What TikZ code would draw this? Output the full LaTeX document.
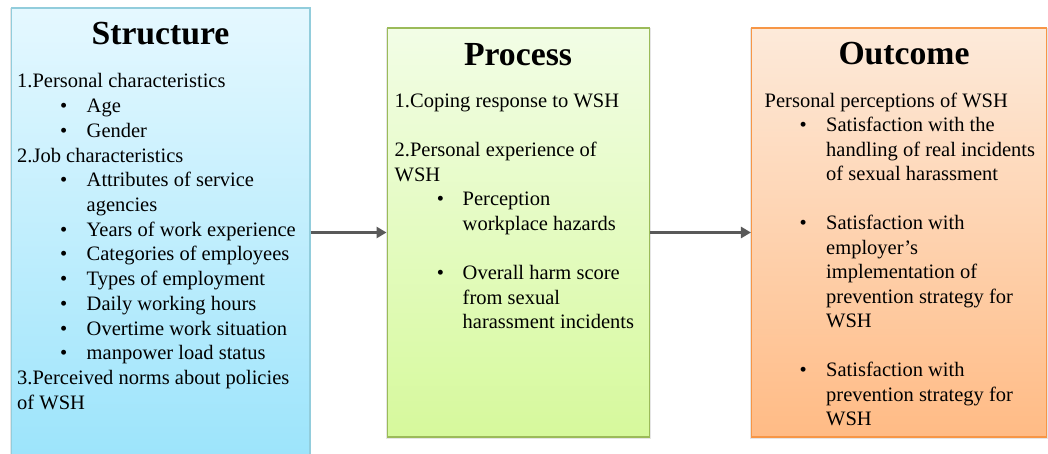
\documentclass[tikz,border=0pt]{standalone}
\usepackage{fontspec}
\setmainfont{Liberation Serif}
\usetikzlibrary{arrows.meta}
\definecolor{sBorder}{HTML}{92CDDC}
\definecolor{sTop}{HTML}{E5F8FF}
\definecolor{sBot}{HTML}{9CE4FB}
\definecolor{pBorder}{HTML}{9BBB59}
\definecolor{pTop}{HTML}{F2FDE6}
\definecolor{pBot}{HTML}{D6F99C}
\definecolor{oBorder}{HTML}{F79646}
\definecolor{oTop}{HTML}{FDEADA}
\definecolor{oBot}{HTML}{FFBB85}
\definecolor{arrowGray}{HTML}{595959}
\tikzset{
  panel/.style={rectangle, inner sep=0pt, line width=1.5pt,
    preaction={draw=black!10, line width=3pt, transform canvas={yshift=-1.2pt}}},
  title/.style={anchor=base, inner sep=0pt, font=\fontsize{33.7}{40}\selectfont\bfseries},
  body/.style={anchor=base west, inner sep=0pt, font=\fontsize{20.5}{24.6}\selectfont},
  bul/.style={anchor=base, inner sep=0pt, font=\fontsize{20.5}{24.6}\selectfont},
  link/.style={draw=arrowGray, line width=3pt, -{Triangle[length=10pt,width=11pt]}}
}
\begin{document}
\begin{tikzpicture}[x=1pt,y=-1pt]
\useasboundingbox (0,0) rectangle (1048,454);
% boxes
\node[panel, draw=sBorder, top color=sTop, bottom color=sBot,
  minimum width=298.5pt, minimum height=452pt] (sbox) at (160.5,234) {};
\node[panel, draw=pBorder, top color=pTop, bottom color=pBot,
  minimum width=262pt, minimum height=408.5pt] (pbox) at (518.3,232.5) {};
\node[panel, draw=oBorder, top color=oTop, bottom color=oBot,
  minimum width=295pt, minimum height=408.5pt] (obox) at (899.2,232.5) {};
% titles
\node[title] (st) at (160.5,45) {Structure};
\node[title] (pt) at (518,66) {Process};
\node[title] (ot) at (904,65) {Outcome};
% Structure text: kind 0 = plain, 1 = bullet, 2 = continuation
\foreach \i/\k/\t in {0/0/1.Personal characteristics, 1/1/Age, 2/1/Gender,
  3/0/2.Job characteristics, 4/1/Attributes of service, 5/2/agencies,
  6/1/Years of work experience, 7/1/Categories of employees,
  8/1/Types of employment, 9/1/Daily working hours,
  10/1/Overtime work situation, 11/1/manpower load status,
  12/0/3.Perceived norms about policies, 13/0/of WSH}{
  \pgfmathsetmacro{\yy}{88+24.7*\i}
  \ifnum\k=0
    \node[body] (s\i) at (17,\yy) {\t};
  \else
    \node[body] (s\i) at (86.5,\yy) {\t};
  \fi
  \ifnum\k=1
    \node[bul] (sb\i) at (63.8,\yy) {\textbullet};
  \fi
}
% Process text
\foreach \i/\k/\t in {0/0/1.Coping response to WSH,
  2/0/2.Personal experience of, 3/0/WSH,
  4/1/Perception, 5/2/workplace hazards,
  7/1/Overall harm score, 8/2/from sexual, 9/2/harassment incidents}{
  \pgfmathsetmacro{\yy}{107.5+24.6*\i}
  \ifnum\k=0
    \node[body] (p\i) at (394.5,\yy) {\t};
  \else
    \node[body] (p\i) at (462.5,\yy) {\t};
  \fi
  \ifnum\k=1
    \node[bul] (pb\i) at (440.5,\yy) {\textbullet};
  \fi
}
% Outcome text
\foreach \i/\k/\t in {0/0/Personal perceptions of WSH,
  1/1/Satisfaction with the, 2/2/handling of real incidents,
  3/2/of sexual harassment,
  5/1/Satisfaction with, 6/2/employer's, 7/2/implementation of,
  8/2/prevention strategy for, 9/2/WSH,
  11/1/Satisfaction with, 12/2/prevention strategy for, 13/2/WSH}{
  \pgfmathsetmacro{\yy}{107.3+24.5*\i}
  \ifnum\k=0
    \node[body] (o\i) at (764.5,\yy) {\t};
  \else
    \node[body] (o\i) at (826,\yy) {\t};
  \fi
  \ifnum\k=1
    \node[bul] (ob\i) at (803.3,\yy) {\textbullet};
  \fi
}
% connectors
\draw[link] (sbox.east |- pbox.west) -- (pbox.west);
\draw[link] (pbox.east) -- (obox.west);
\end{tikzpicture}
\end{document}
